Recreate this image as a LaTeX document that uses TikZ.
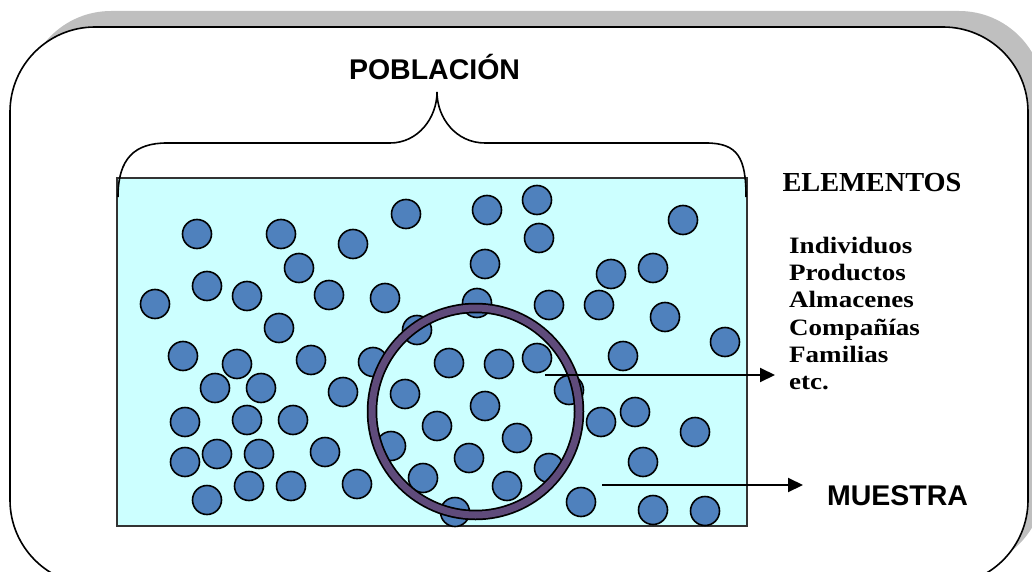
\documentclass[tikz,border=0pt]{standalone}
\usepackage{graphicx}
\usepackage{fontspec}
\setmainfont{Liberation Serif}
\setsansfont{Liberation Sans}
\usetikzlibrary{arrows.meta}
\definecolor{fondo}{HTML}{CCFFFF}
\definecolor{azul}{HTML}{4F81BD}
\definecolor{morado}{HTML}{5F4B7B}
\definecolor{sombra}{HTML}{BFBFBF}

\begin{document}
\begin{tikzpicture}[
    x=1pt, y=-1pt,
    punto/.style={circle, draw, line width=1.6pt, fill=azul, minimum size=29pt, inner sep=0pt},
    titulo/.style={font=\sffamily\bfseries\fontsize{28.5}{34}\selectfont},
    flecha/.style={line width=2pt, -{Triangle[length=15pt,width=14pt]}}
]
\useasboundingbox (0,0) rectangle (1032,572);
\clip (0,0) rectangle (1032,572);

% Marco
\fill[sombra, rounded corners=85pt] (26,11) rectangle (1044,569);
\draw[line width=1.6pt, fill=white, rounded corners=85pt] (10,27) rectangle (1028,585);

% Poblacion
\draw[line width=2pt, draw=black!80, fill=fondo] (117,178) rectangle (747,526);
\foreach \x/\y [count=\i] in {197/234, 281/234, 406/214, 353/244, 299/268, 207/286,
    247/296, 329/295, 385/298, 155/304, 279/328, 417/330, 183/356, 237/364, 311/360,
    373/362, 449/363, 215/388, 261/388, 343/392, 405/394, 185/422, 247/420, 293/420,
    437/426, 391/446, 185/462, 217/454, 259/454, 325/452, 423/478, 207/500, 249/486,
    291/486, 357/484, 455/512, 487/210, 537/200, 539/238, 683/220, 485/264, 611/274,
    653/268, 477/303, 549/305, 599/305, 665/317, 725/342, 499/364, 537/358, 623/356,
    569/390, 485/406, 517/438, 601/422, 635/412, 695/432, 469/458, 549/468, 643/462,
    507/486, 581/502, 653/510, 705/511}
    \node[punto] (p\i) at (\x,\y) {};

% Muestra
\draw[line width=10.5pt] (475.5,411.5) circle[radius=103.5];
\draw[morado, line width=7pt] (475.5,411.5) circle[radius=103.5];

% Llave
\draw[line width=1.6pt] (118,197) .. controls (118,158) and (135,143) .. (167,143) -- (390,143)
    .. controls (418,143) and (437,118) .. (437,92)
    .. controls (437,118) and (456,143) .. (485,143) -- (706,143)
    .. controls (738,143) and (746,158) .. (746,197);

% Textos
\node[titulo] (poblacion) at (434.5,67) {POBLACIÓN};
\node[font=\bfseries\fontsize{27.5}{30}\selectfont] (elementos) at (872,183) {\scalebox{1.03}[1]{ELEMENTOS}};
\node[anchor=west, inner sep=0pt, font=\bfseries\fontsize{23.5}{27.2}\selectfont] (lista) at (789,316)
    {\scalebox{1.15}[1]{\begin{tabular}{@{}l@{}}Individuos\\Productos\\Almacenes\\Compañías\\Familias\\etc.\end{tabular}}};
\node[titulo] (muestra) at (897.5,496) {MUESTRA};

% Flechas
\coordinate (a1) at (545,375);
\coordinate (a2) at (775,375);
\draw[flecha] (a1) -- (a2);
\coordinate (b1) at (602,485);
\coordinate (b2) at (803,485);
\draw[flecha] (b1) -- (b2);
\end{tikzpicture}
\end{document}
